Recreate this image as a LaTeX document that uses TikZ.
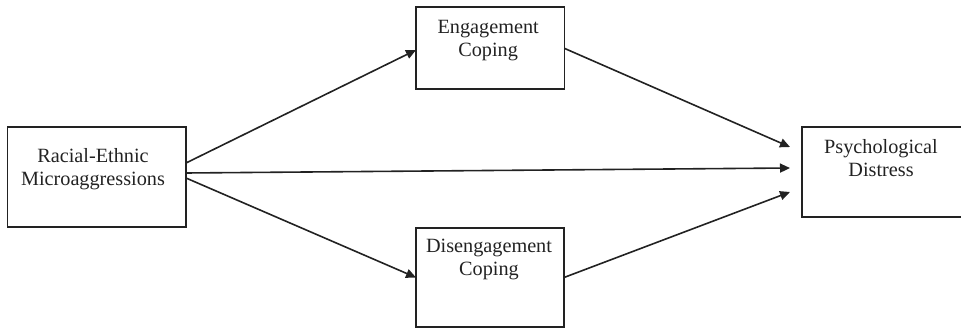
\documentclass[tikz,border=0pt]{standalone}
\usepackage{fontspec}
\setmainfont{Liberation Serif}
\usetikzlibrary{arrows.meta}
\definecolor{ink}{HTML}{222222}
\begin{document}
\begin{tikzpicture}[x=1pt,y=-1pt,
  box/.style={draw=ink, line width=1.6pt, rectangle, inner sep=0pt, outer sep=0pt},
  lbl/.style={inner sep=0pt, outer sep=0pt, align=center, text=ink,
    font=\fontsize{20.25}{23}\selectfont, anchor=north},
  conn/.style={draw=ink, line width=1.6pt, -{Triangle[length=10pt,width=9pt]}}]
\useasboundingbox (0,0) rectangle (961,331);
% boxes
\node[box, minimum width=178.5pt, minimum height=100pt] (L) at (96.75,177) {};
\node[box, minimum width=148.3pt, minimum height=82pt] (T) at (490.15,48.3) {};
\node[box, minimum width=148pt, minimum height=99pt] (B) at (490,277.5) {};
\node[box, minimum width=160pt, minimum height=90pt] (R) at (882,172) {};
% labels
\node[lbl] (Lt) at ([xshift=-3.75pt,yshift=-21.5pt]L.north) {Racial-Ethnic\\Microaggressions};
\node[lbl] (Tt) at ([xshift=-2pt,yshift=-12.7pt]T.north) {Engagement\\Coping};
\node[lbl] (Bt) at ([xshift=-1pt,yshift=-11.3pt]B.north) {Disengagement\\Coping};
\node[lbl] (Rt) at ([xshift=-1pt,yshift=-12.6pt]R.north) {Psychological\\Distress};
% arrow tip points
\coordinate (r1) at ([xshift=-12pt,yshift=25pt]R.west);
\coordinate (r2) at ([xshift=-12pt,yshift=4pt]R.west);
\coordinate (r3) at ([xshift=-12pt,yshift=-20pt]R.west);
% connectors
\draw[conn] ([yshift=14pt]L.east) -- ([yshift=-1.7pt]T.west);
\draw[conn] ([yshift=4pt]L.east) -- (r2);
\draw[conn] ([yshift=-1pt]L.east) -- (B.west);
\draw[conn] (T.east) -- (r1);
\draw[conn] (B.east) -- (r3);
\end{tikzpicture}
\end{document}
